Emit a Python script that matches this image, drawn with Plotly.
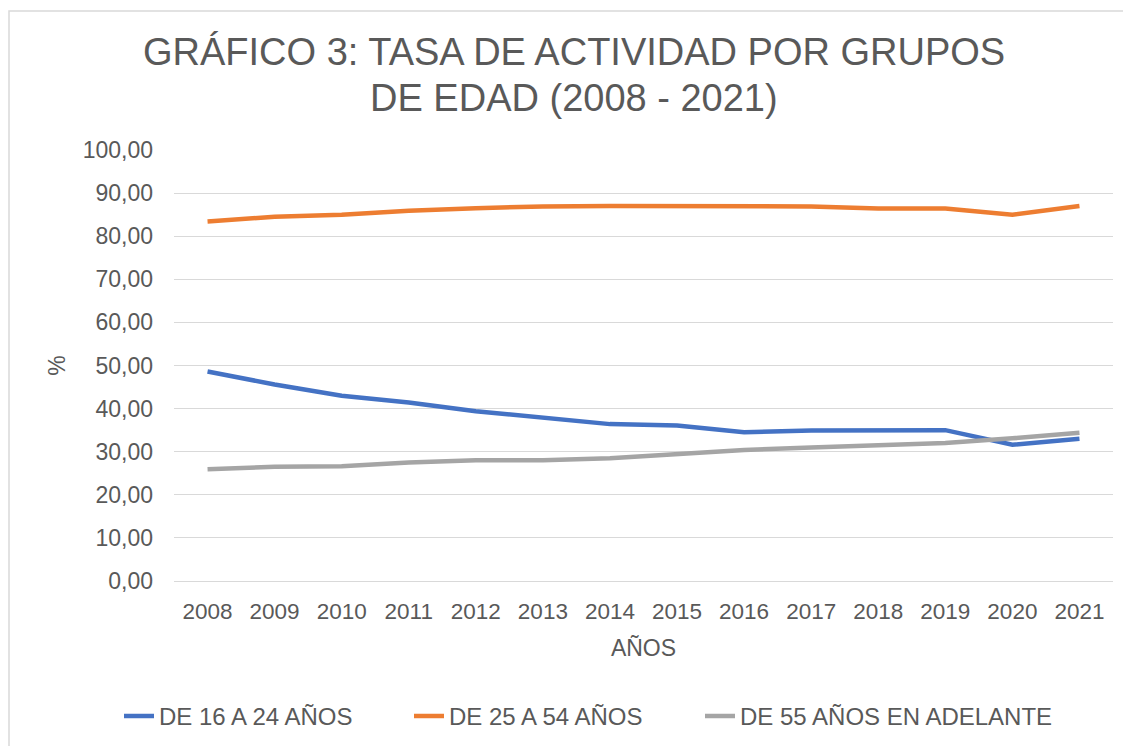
import plotly.graph_objects as go

years = ["2008", "2009", "2010", "2011", "2012", "2013", "2014",
         "2015", "2016", "2017", "2018", "2019", "2020", "2021"]
de_16_24 = [48.6, 45.6, 43.0, 41.4, 39.4, 37.9, 36.4, 36.1, 34.5, 34.9, 34.9, 35.0, 31.6, 33.0]
de_25_54 = [83.4, 84.5, 85.0, 85.9, 86.5, 86.9, 87.0, 87.0, 87.1, 86.9, 86.4, 86.4, 85.0, 87.0]
de_55_mas = [25.9, 26.5, 26.6, 27.5, 28.0, 28.0, 28.5, 29.5, 30.4, 31.0, 31.6, 32.0, 33.1, 34.4]

series_names = ["DE 16 A 24 AÑOS", "DE 25 A 54 AÑOS", "DE 55 AÑOS EN ADELANTE"]
colors = ["#4472C4", "#ED7D31", "#A5A5A5"]
title_lines = ["GRÁFICO 3: TASA DE ACTIVIDAD POR GRUPOS", "DE EDAD (2008 - 2021)"]

FONT = "Liberation Sans, Arial, sans-serif"
TXT = "#595959"

# figure geometry (page has an 8px body margin)
W, H = 1123, 738
L, R, T, B = 166, 18, 142, 165.3
PW, PH = W - L - R, H - T - B


def px_x(fx):
    return (fx - L) / PW


def px_y(fy):
    return (H - B - fy) / PH


legend_ids = ["legend", "legend2", "legend3"]
legend_text_x = [151, 441, 732]  # where each legend label starts (figure px)

fig = go.Figure()
for name, vals, col, lid in zip(series_names, [de_16_24, de_25_54, de_55_mas], colors, legend_ids):
    fig.add_trace(go.Scatter(x=years, y=vals, name=name, mode="lines",
                             line=dict(color=col, width=4.5), legend=lid))

legend_common = dict(orientation="h", xanchor="left", xref="paper",
                     y=px_y(708), yanchor="middle", yref="paper",
                     font=dict(family=FONT, size=24, color=TXT),
                     bgcolor="rgba(0,0,0,0)")
fig.update_layout(
    width=W, height=H,
    paper_bgcolor="white", plot_bgcolor="white",
    separators=",.",
    margin=dict(l=L, r=R, t=T, b=B, autoexpand=False),
    font=dict(family=FONT, color=TXT, size=22),
    showlegend=True,
)
for lid, tx in zip(legend_ids, legend_text_x):
    fig.update_layout({lid: dict(legend_common, x=px_x(tx - 40))})

for txt, fy in zip(title_lines, [44, 90]):
    fig.add_annotation(text=txt, xref="paper", yref="paper",
                       x=px_x(566), y=px_y(fy), xanchor="center", yanchor="middle",
                       showarrow=False, font=dict(family=FONT, size=38, color=TXT))

fig.update_xaxes(type="category", range=[-0.5, len(years) - 0.5],
                 showgrid=False, showline=True,
                 linecolor="#d9d9d9", linewidth=1, ticks="",
                 tickfont=dict(family=FONT, size=22.5, color=TXT),
                 ticklabelstandoff=10,
                 title=dict(text="AÑOS", font=dict(family=FONT, size=23, color=TXT), standoff=16))
fig.update_yaxes(range=[0, 100], dtick=10, tickformat=".2f",
                 showgrid=True, gridcolor="#d9d9d9", gridwidth=1,
                 zeroline=True, zerolinecolor="#d9d9d9", zerolinewidth=1,
                 showline=False, ticks="",
                 tickfont=dict(family=FONT, size=23, color=TXT),
                 ticklabelstandoff=20,
                 title=dict(text="%", font=dict(family=FONT, size=23, color=TXT), standoff=10))

# chart area border (partially cropped in the reference)
fig.add_shape(type="rect", xref="paper", yref="paper",
              x0=px_x(1), x1=px_x(W + 20),
              y0=px_y(H + 20), y1=px_y(3),
              line=dict(color="#d9d9d9", width=1.5), fillcolor="rgba(0,0,0,0)",
              layer="below")

fig.write_html("out.html")
